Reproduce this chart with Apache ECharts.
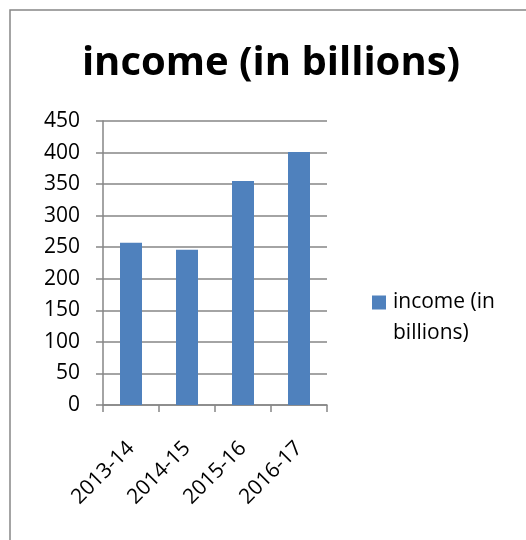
<!DOCTYPE html>
<html>
<head>
<meta charset="utf-8">
<script src="https://cdn.jsdelivr.net/npm/echarts@6/dist/echarts.min.js"></script>
<style>
  html, body { margin: 0; padding: 0; background: #fff; }
  #chart { width: 526px; height: 540px; }
</style>
</head>
<body>
<div id="chart"></div>
<script>
const categories = ["2013-14", "2014-15", "2015-16", "2016-17"];
const income = [257, 246, 355, 401];
const seriesName = "income (in billions)";

const chart = echarts.init(document.getElementById("chart"));
const option = {
  backgroundColor: "#fff",
  animation: false,
  textStyle: { fontFamily: "Open Sans" },
  title: {
    text: seriesName,
    left: 266,
    textAlign: "center",
    top: 39,
    textStyle: { fontSize: 40, fontWeight: "bold", color: "#000", fontFamily: "Open Sans" },
  },
  graphic: [
    {
      type: "rect",
      shape: { x: 10, y: 10, width: 700, height: 700 },
      style: { fill: "none", stroke: "#878787", lineWidth: 1.5 },
    },
    {
      // second line of the legend label
      type: "text",
      left: 393,
      top: 323,
      style: { text: "billions)", fontSize: 21, fill: "#000", fontFamily: "Open Sans" },
    },
  ],
  legend: {
    left: 372,
    top: 292,
    padding: 0,
    icon: "rect",
    itemWidth: 14,
    itemHeight: 14,
    itemGap: 6,
    formatter: function () {
      return "income (in";
    },
    textStyle: { fontSize: 21, color: "#000", padding: [0, 0, 0, 2] },
  },
  grid: { left: 103, right: 199, top: 121, bottom: 135 },
  xAxis: {
    type: "category",
    data: categories,
    axisLine: { lineStyle: { color: "#868686", width: 1.5 } },
    axisTick: { show: true, length: 7, lineStyle: { color: "#868686", width: 1.5 } },
    axisLabel: { rotate: 45, fontSize: 21, color: "#000", margin: 40, interval: 0 },
  },
  yAxis: {
    type: "value",
    min: 0,
    max: 450,
    interval: 50,
    axisLine: { show: true, lineStyle: { color: "#868686", width: 1.5 } },
    axisTick: { show: true, length: 7, lineStyle: { color: "#868686", width: 1.5 } },
    axisLabel: { fontSize: 21, color: "#000", margin: 23 },
    splitLine: { lineStyle: { color: "#868686", width: 1.5 } },
  },
  series: [
    {
      name: seriesName,
      type: "bar",
      data: income,
      barWidth: 22,
      itemStyle: { color: "#4F81BD" },
    },
  ],
};
chart.setOption(option);
</script>
</body>
</html>
